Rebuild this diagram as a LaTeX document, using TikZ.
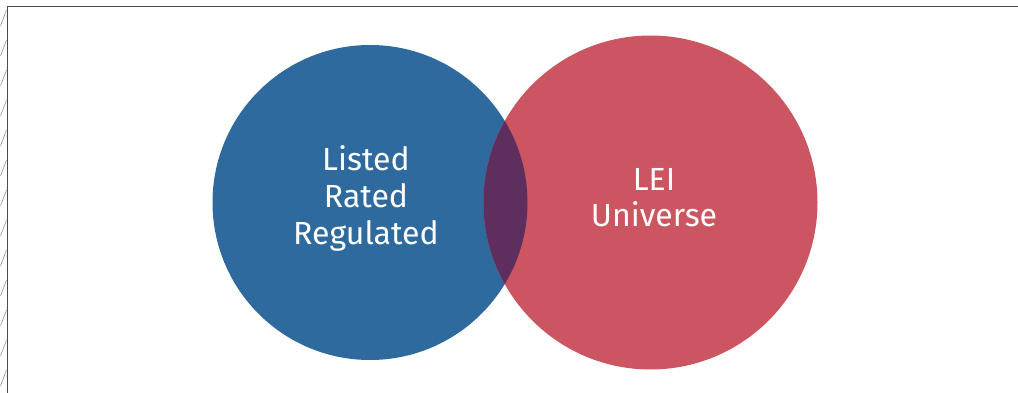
\documentclass[tikz,border=0pt]{standalone}
\usepackage{fontspec}
\setmainfont{Fira Sans}
\definecolor{vblue}{HTML}{2E6A9E}
\definecolor{vred}{HTML}{CB5560}
\definecolor{vover}{HTML}{5E2E5E}
\begin{document}
\begin{tikzpicture}[x=1pt,y=-1pt,
  lbl/.style={text=white,font=\fontsize{32}{37}\selectfont,align=center,inner sep=0pt},
  frame/.style={draw=black!70,line width=1.5pt},
  hatch/.style={draw=black!40,line width=0.6pt}]
\useasboundingbox (0,0) rectangle (1018,393);
\fill[vblue] (370,202.5) circle (157.5);
\fill[vred] (650.5,202.5) circle (167);
\begin{scope}
\clip (370,202.5) circle (157.5);
\fill[vover] (650.5,202.5) circle (167);
\end{scope}
\node[lbl,anchor=base] (a) at (366,244) {Listed\\Rated\\Regulated};
\node[lbl,anchor=base,font=\fontsize{32}{36}\selectfont] (b) at (654,226) {LEI\\Universe};
\draw[frame] (1018,6.5) -- (7.5,6.5) -- (7.5,393);
\foreach \y in {10,40,...,390} \draw[hatch] (0.5,\y+16) -- (6.5,\y);
\end{tikzpicture}
\end{document}
